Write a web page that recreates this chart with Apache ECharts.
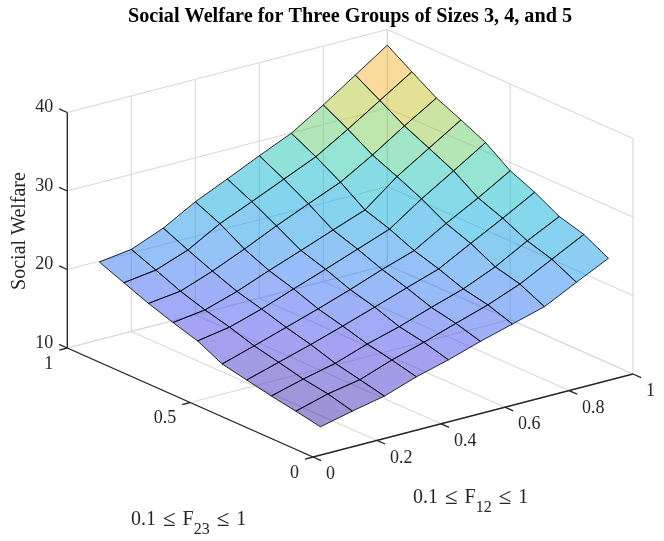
<!DOCTYPE html>
<html>
<head>
<meta charset="utf-8">
<style>html,body{margin:0;padding:0;background:#fff}#c{width:664px;height:541px}</style>
<script src="https://cdn.jsdelivr.net/npm/echarts@6/dist/echarts.min.js"></script>
</head>
<body>
<div id="c"></div>
<script>
// surface sample positions
const f12Values = [0.1,0.2,0.3,0.4,0.5,0.6,0.7,0.8,0.9,1];
const f23Values = [0.1,0.2,0.3,0.4,0.5,0.6,0.7,0.8,0.9,1];
// social welfare: one list per F12 value, running over F23
const welfareF12_01 = [11.4,12.0,12.55,13.2,13.85,15.4,16.35,17.4,18.65,19.9];
const welfareF12_02 = [12.35,13.15,13.65,14.4,15.1,16.1,16.9,17.9,19.2,20.45];
const welfareF12_03 = [13.2,13.9,14.6,15.6,16.4,17.35,18.2,19.4,20.7,22.1];
const welfareF12_04 = [14.6,15.35,16.0,16.9,17.7,18.85,19.8,21.15,23.0,24.4];
const welfareF12_05 = [15.7,16.55,17.15,18.25,19.1,20.3,21.3,23.05,24.75,26.25];
const welfareF12_06 = [17.0,17.9,18.55,19.65,20.6,21.8,22.85,24.8,26.55,28.15];
const welfareF12_07 = [18.15,19.2,19.85,21.0,21.95,23.3,24.35,26.5,28.35,29.95];
const welfareF12_08 = [19.3,20.8,21.6,23.2,24.35,26.1,27.55,28.9,30.8,32.5];
const welfareF12_09 = [21.35,22.9,23.85,25.35,26.55,28.6,30.1,31.55,33.4,35.25];
const welfareF12_10 = [23.35,25.0,25.9,27.6,28.95,31.15,32.65,34.05,36.0,38.0];
const welfare = [welfareF12_01,welfareF12_02,welfareF12_03,welfareF12_04,welfareF12_05,
                 welfareF12_06,welfareF12_07,welfareF12_08,welfareF12_09,welfareF12_10];
// axis ticks
const xTicks = [0,0.2,0.4,0.6,0.8,1];
const xTickLabels = ['0','0.2','0.4','0.6','0.8','1'];
const yTicks = [0,0.5,1];
const yTickLabels = ['0','0.5','1'];
const zTicks = [10,20,30,40];
const zTickLabels = ['10','20','30','40'];

// orthographic view of the 3D box, in plot units
const view = {ox:313, oy:457, xx:320, xy:-83, yx:-245.7, yy:-109, zy:-7.85, zBase:10};
function project(x,y,z){
  return [view.ox + view.xx*x + view.yx*y,
          view.oy + view.xy*x + view.yy*y + view.zy*(z-view.zBase)];
}
// colour scale (value -> base colour), drawn at half opacity
const colorStops = [
  [11,[58,32,150]],[16,[76,72,236]],[20,[48,125,245]],[25,[8,172,222]],
  [27.5,[18,190,200]],[29,[50,205,160]],[31,[120,205,95]],[33.5,[195,198,40]],[36,[248,178,60]]
];
function faceColor(v){
  let s=colorStops;
  if(v<=s[0][0]) return rgba(s[0][1]);
  for(let k=1;k<s.length;k++){
    if(v<=s[k][0]){
      const t=(v-s[k-1][0])/(s[k][0]-s[k-1][0]);
      return rgba(s[k-1][1].map((c,n)=>c+(s[k][1][n]-c)*t));
    }
  }
  return rgba(s[s.length-1][1]);
}
function rgba(c){return 'rgba('+c.map(Math.round).join(',')+',0.5)';}

// lines of the box as 3D segments
const gridSegs=[], axisSegs=[];
xTicks.forEach(x=>{
  gridSegs.push([x,0,10,x,1,10]);
  gridSegs.push([x,1,10,x,1,40]);
});
yTicks.forEach(y=>{
  gridSegs.push([0,y,10,1,y,10]);
  gridSegs.push([1,y,10,1,y,40]);
});
zTicks.forEach(z=>{
  gridSegs.push([0,1,z,1,1,z]);
  gridSegs.push([1,1,z,1,0,z]);
  axisSegs.push([0,1,z,0,1.033,z]);
});
xTicks.forEach(x=>axisSegs.push([x,0,10,x,-0.033,10]));
yTicks.forEach(y=>axisSegs.push([0,y,10,-0.025,y,10]));
axisSegs.push([0,0,10,1,0,10]);
axisSegs.push([0,0,10,0,1,10]);
axisSegs.push([0,1,10,0,1,40]);

const cells=[];
for(let i=f12Values.length-2;i>=0;i--){
  for(let j=f23Values.length-2;j>=0;j--){ cells.push([i,j]); }
}
const tickLabels=[];
xTicks.forEach((x,k)=>tickLabels.push({p:project(x,0,10),dx:13,dy:17.5,align:'left',t:xTickLabels[k]}));
yTicks.forEach((y,k)=>tickLabels.push({p:project(0,y,10),dx:-14,dy:16,align:'right',t:yTickLabels[k]}));
zTicks.forEach((z,k)=>tickLabels.push({p:project(0,1,z),dx:-14,dy:-5,align:'right',t:zTickLabels[k]}));

const SERIF='"Liberation Serif","Times New Roman",serif';
const TEXT='#262626';

function segSeries(data,color,width,z){
  return {type:'custom',coordinateSystem:'cartesian2d',data:data,z:z,silent:true,clip:false,
    renderItem:(p,api)=>{
      const s=data[p.dataIndex];
      const a=api.coord(project(s[0],s[1],s[2])), b=api.coord(project(s[3],s[4],s[5]));
      return {type:'line',shape:{x1:a[0],y1:a[1],x2:b[0],y2:b[1]},
              style:{stroke:color,lineWidth:width,fill:null}};
    }};
}
const mathRich={
  s:{fontFamily:SERIF,fontSize:16,color:TEXT,padding:[20,0,0,0]},
  le:{fontFamily:SERIF,fontSize:23,color:TEXT,padding:[0,2,0,2]}
};

const chart=echarts.init(document.getElementById('c'),null,{renderer:'canvas'});
chart.setOption({
  animation:false,
  backgroundColor:'#fff',
  title:{text:'Social Welfare for Three Groups of Sizes 3, 4, and 5',left:345,top:2,textAlign:'center',
    textStyle:{fontFamily:SERIF,fontWeight:'bold',fontSize:20.2,color:'#000'}},
  grid:{left:0,right:0,top:0,bottom:0},
  xAxis:{type:'value',min:0,max:664,show:false},
  yAxis:{type:'value',min:0,max:541,inverse:true,show:false},
  series:[
    segSeries(gridSegs,'#d9d9d9',1.1,1),
    segSeries(axisSegs,'#262626',1.3,2),
    {type:'custom',coordinateSystem:'cartesian2d',data:cells,z:3,silent:true,clip:false,
      renderItem:(p,api)=>{
        const [i,j]=cells[p.dataIndex];
        const corners=[[i,j],[i+1,j],[i+1,j+1],[i,j+1]];
        const pts=corners.map(c=>api.coord(project(f12Values[c[0]],f23Values[c[1]],welfare[c[0]][c[1]])));
        const mean=corners.reduce((a,c)=>a+welfare[c[0]][c[1]],0)/4;
        return {type:'polygon',shape:{points:pts},
                style:{fill:faceColor(mean),stroke:'rgba(0,0,0,0.92)',lineWidth:0.9}};
      }},
    {type:'custom',coordinateSystem:'cartesian2d',data:tickLabels,z:4,silent:true,clip:false,
      renderItem:(p,api)=>{
        const l=tickLabels[p.dataIndex], q=api.coord(l.p);
        return {type:'text',x:q[0]+l.dx,y:q[1]+l.dy,
                style:{text:l.t,textAlign:l.align,textVerticalAlign:'middle',
                       font:'18px '+SERIF,fill:TEXT}};
      }}
  ],
  graphic:[
    {type:'text',x:20,y:231,rotation:Math.PI/2,silent:true,
     style:{text:'Social Welfare',textAlign:'center',textVerticalAlign:'middle',font:'20px '+SERIF,fill:TEXT}},
    {type:'text',x:131,y:502,silent:true,
     style:{text:'0.1 {le|≤} F{s|23} {le|≤} 1',font:'20px '+SERIF,fill:TEXT,rich:mathRich}},
    {type:'text',x:413,y:480,silent:true,
     style:{text:'0.1 {le|≤} F{s|12} {le|≤} 1',font:'20px '+SERIF,fill:TEXT,rich:mathRich}}
  ]
});
</script>
</body>
</html>
